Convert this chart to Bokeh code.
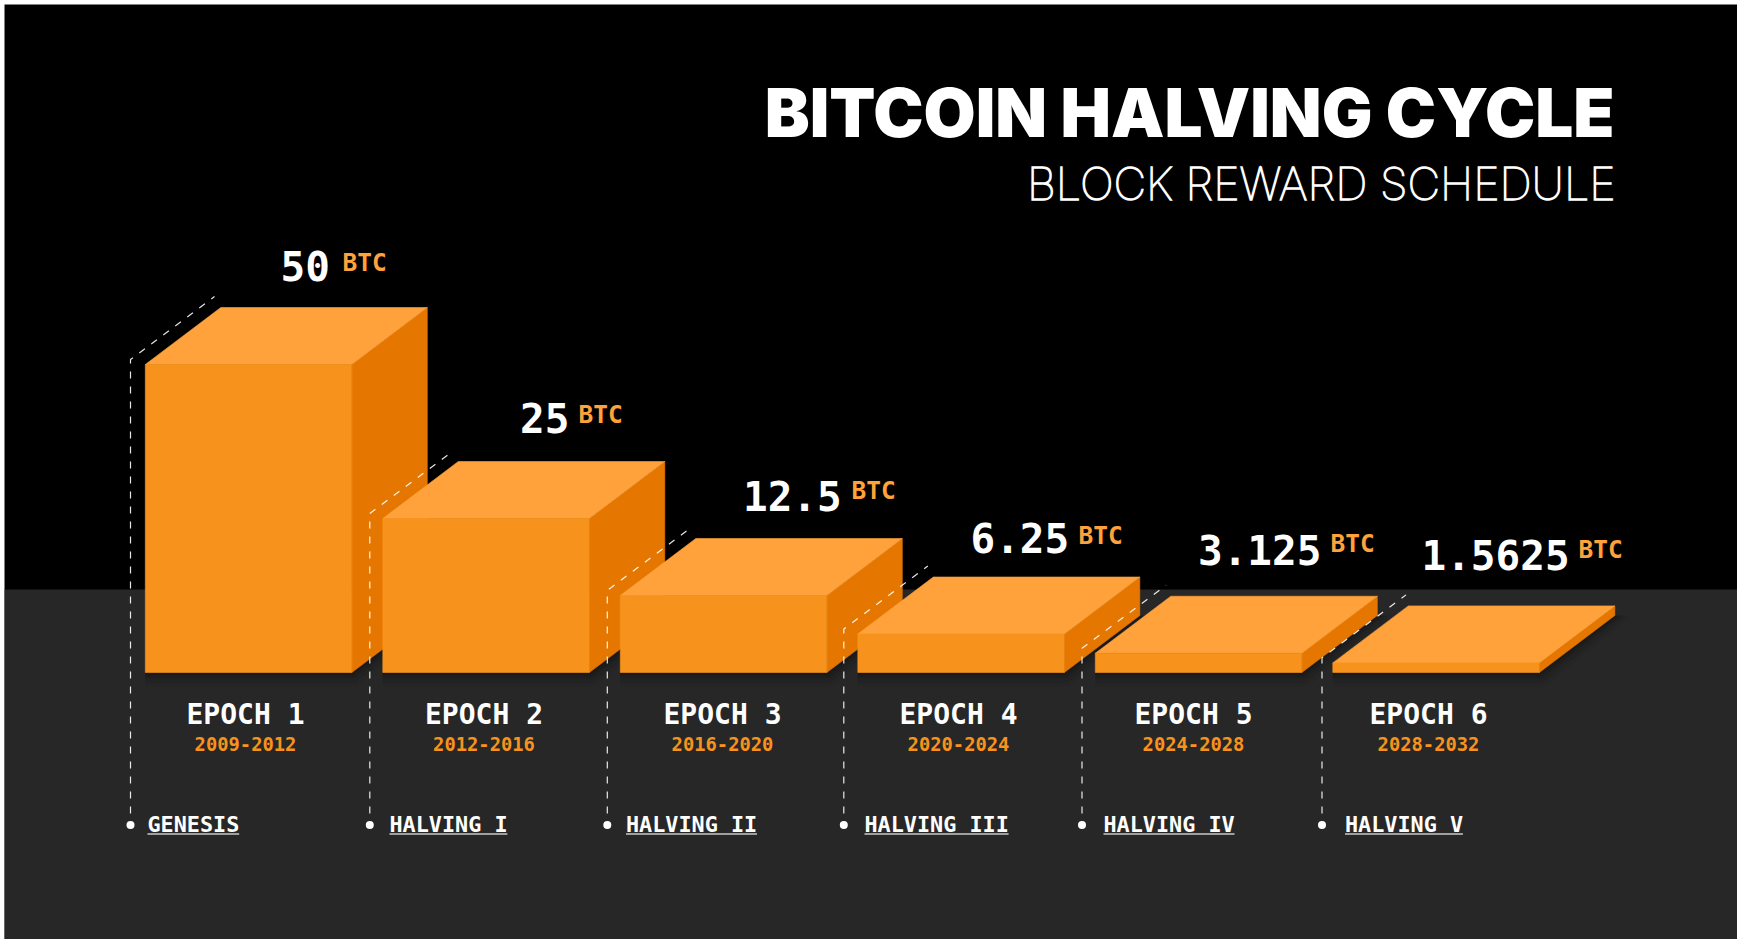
from bokeh.plotting import figure
from bokeh.embed import file_html
from bokeh.resources import INLINE
from bokeh.models import Range1d, ColumnDataSource
from bokeh.core.properties import value

# ---------- data ----------
epochs = ["EPOCH 1", "EPOCH 2", "EPOCH 3", "EPOCH 4", "EPOCH 5", "EPOCH 6"]
years = ["2009-2012", "2012-2016", "2016-2020", "2020-2024", "2024-2028", "2028-2032"]
rewards = [50, 25, 12.5, 6.25, 3.125, 1.5625]
reward_labels = ["50", "25", "12.5", "6.25", "3.125", "1.5625"]
events = ["GENESIS", "HALVING I", "HALVING II", "HALVING III", "HALVING IV", "HALVING V"]
title_text = "BITCOIN HALVING CYCLE"
subtitle_text = "BLOCK REWARD SCHEDULE"
unit_text = "BTC"

# ---------- layout (reference-image pixels) ----------
W, H = 1733, 935
OX, OY = 4, 4            # page position of the figure's top-left corner
BASE_PX = 672            # pixel row of reward = 0
PX_PER_BTC = 6.16
BAR_X0, BAR_STEP, BAR_W = 144.8, 237.5, 206.5
DEPTH_X, DEPTH_Y = 75.5, 57
HORIZON = 589
LEAD_X = [130, 369.3, 606.8, 843.3, 1081.5, 1321.5]
LEAD_END_DX, LEAD_END_DY = 84, 63
LEAD_TOP_GAP = 5
DOT_Y = 824.5
LEAD_BOTTOM = 813
EVENT_X = [147, 389, 625.5, 864, 1103, 1344.5]
EPOCH_CX = [245, 483.5, 722, 958, 1193, 1428]
VALUE_X = [280, 519.5, 742.5, 970, 1197.5, 1421]
VALUE_Y = [265.5, 417.5, 495.5, 537.5, 549.5, 554.5]
UNIT_X = [342, 578, 851, 1078, 1330, 1578]
UNIT_Y = [262, 414, 490, 534.5, 543, 549]

ORANGE_FRONT = "#F7931C"
ORANGE_TOP = "#FFA23B"
ORANGE_SIDE = "#E57700"
FLOOR = "#272727"
MONO = "DejaVu Sans Mono"


def fy(px):
    """Image pixel row -> reward value on the chart's y scale."""
    return (BASE_PX - px) / PX_PER_BTC


p = figure(
    width=W, height=H, output_backend="svg", toolbar_location=None,
    x_range=Range1d(OX, OX + W), y_range=Range1d(fy(OY + H), fy(OY)),
    min_border=0, margin=(OY, 0, 0, OX),
    background_fill_color="#000000", border_fill_color="#000000", outline_line_color=None,
)
p.axis.visible = False
p.grid.visible = False

# floor
p.quad(left=[OX], right=[OX + W], top=[fy(HORIZON)], bottom=[fy(OY + H)],
       fill_color=FLOOR, line_color=None)

dy_val = DEPTH_Y / PX_PER_BTC

# soft shadows
for i, r in enumerate(rewards):
    l = BAR_X0 + i * BAR_STEP
    for grow, alpha in [(14, 0.05), (10, 0.07), (6, 0.09), (3, 0.12)]:
        g = grow / PX_PER_BTC
        xs = [l, l + BAR_W + grow * 0.4, l + BAR_W + DEPTH_X + grow, l + BAR_W + DEPTH_X + grow, l + BAR_W + DEPTH_X, l]
        ys = [-g, -g, dy_val - g * 0.2, dy_val, dy_val, 0]
        p.patch(xs, ys, fill_color="#000000", fill_alpha=alpha, line_color=None)

# boxes, tallest first, so each later box sits in front of the previous one
for i, r in enumerate(rewards):
    l = BAR_X0 + i * BAR_STEP
    rt = l + BAR_W
    p.patch([rt, rt + DEPTH_X, rt + DEPTH_X, rt], [0, dy_val, r + dy_val, r],
            fill_color=ORANGE_SIDE, line_color=ORANGE_SIDE, line_width=0.6)
    p.patch([l, rt, rt + DEPTH_X, l + DEPTH_X], [r, r, r + dy_val, r + dy_val],
            fill_color=ORANGE_TOP, line_color=ORANGE_TOP, line_width=0.6)
    p.quad(left=[l], right=[rt], bottom=[0], top=[r], fill_color=ORANGE_FRONT,
           line_color=ORANGE_FRONT, line_width=0.6)

# leader lines
for i, r in enumerate(rewards):
    x = LEAD_X[i]
    corner = BASE_PX - r * PX_PER_BTC - LEAD_TOP_GAP
    p.line([x, x, x + LEAD_END_DX], [fy(LEAD_BOTTOM), fy(corner), fy(corner - LEAD_END_DY)],
           line_color="#FFFFFF", line_width=1.2, line_dash="7 8", line_alpha=0.9)
    p.scatter([x], [fy(DOT_Y)], size=8, marker="circle", fill_color="#FFFFFF", line_color=None)

# event underlines
char_w_event = 13.1
for i, e in enumerate(events):
    p.line([EVENT_X[i], EVENT_X[i] + len(e) * char_w_event], [fy(833.5), fy(833.5)],
           line_color="#FFFFFF", line_width=1.5, line_alpha=0.75)

src = ColumnDataSource(dict(
    ex=EPOCH_CX, ey=[fy(714)] * 6, yy=[fy(743)] * 6, epoch=epochs, year=years,
    vx=VALUE_X, vy=[fy(v) for v in VALUE_Y], val=reward_labels,
    ux=UNIT_X, uy=[fy(v) for v in UNIT_Y], unit=[unit_text] * 6,
    evx=EVENT_X, evy=[fy(824)] * 6, event=events,
))

p.text("ex", "ey", text="epoch", source=src, text_font=value(MONO), text_font_style="bold",
       text_font_size="28px", text_color="#FFFFFF", text_align="center", text_baseline="middle")
p.text("ex", "yy", text="year", source=src, text_font=value(MONO), text_font_style="bold",
       text_font_size="18.8px", text_color="#F7931C", text_align="center", text_baseline="middle")
p.text("vx", "vy", text="val", source=src, text_font=value(MONO), text_font_style="bold",
       text_font_size="41px", text_color="#FFFFFF", text_align="left", text_baseline="middle")
p.text("ux", "uy", text="unit", source=src, text_font=value(MONO), text_font_style="bold",
       text_font_size="24.5px", text_color=ORANGE_TOP, text_align="left", text_baseline="middle")
p.text("evx", "evy", text="event", source=src, text_font=value(MONO), text_font_style="bold",
       text_font_size="21.8px", text_color="#FFFFFF", text_align="left", text_baseline="middle")

p.text([1614], [fy(112)], text=[title_text], text_font=value("Inter Black"), text_font_style="normal",
       text_font_size="67.3px", text_color="#FFFFFF", text_align="right", text_baseline="middle")
p.text([1615], [fy(183)], text=[subtitle_text], text_font=value("Inter Thin"), text_font_style="normal",
       text_font_size="45px", text_color="#FFFFFF", text_align="right", text_baseline="middle")

open("out.html", "w").write(file_html(p, INLINE))
